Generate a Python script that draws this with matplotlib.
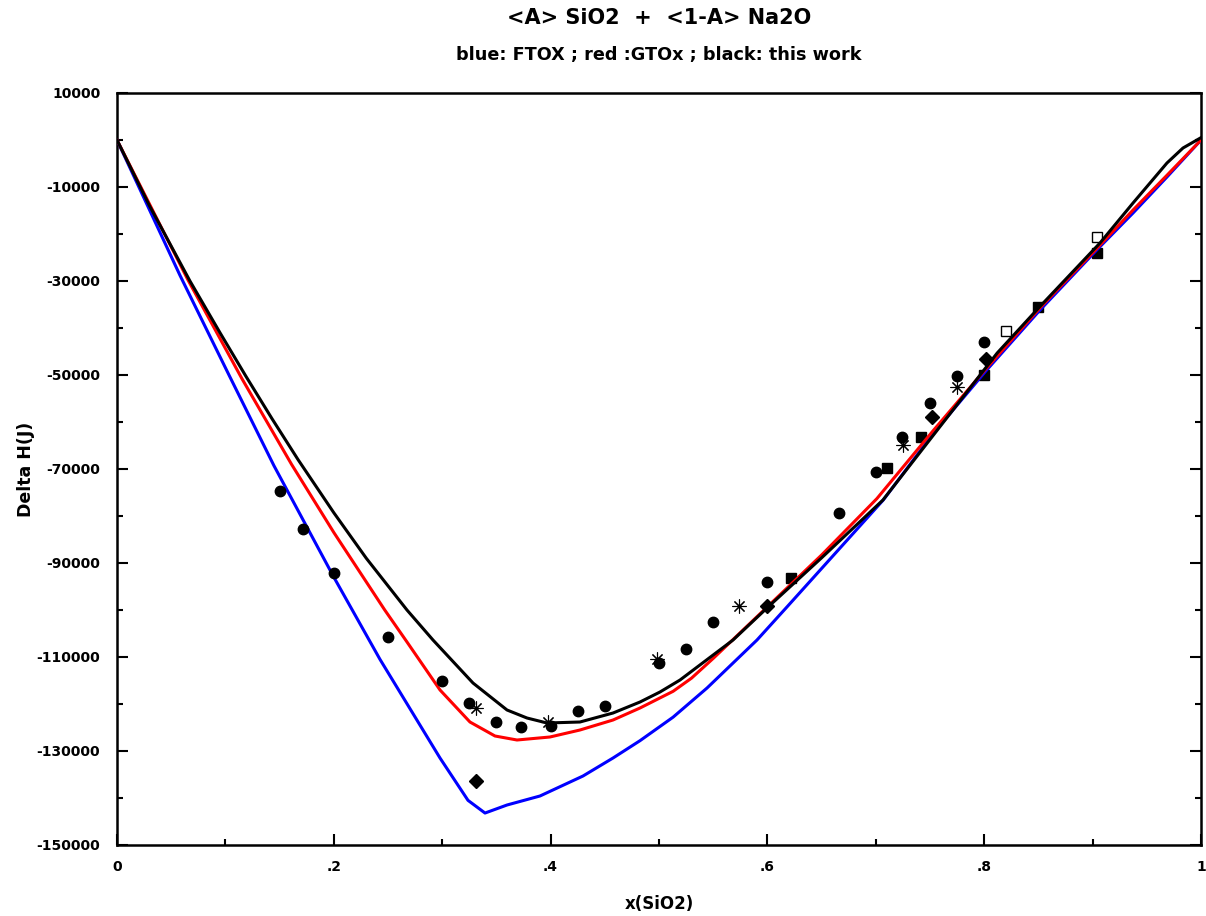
import matplotlib
matplotlib.use("Agg")
import matplotlib.pyplot as plt
from matplotlib.ticker import MultipleLocator, FuncFormatter

plt.rcParams['font.family'] = ['DejaVu Sans']
plt.rcParams['font.weight'] = 'bold'

# ---- model curves ----
blue_x = [0.0, 0.0581, 0.1033, 0.1448, 0.2, 0.2426, 0.298, 0.3238, 0.3395, 0.3598,
          0.3902, 0.4299, 0.4576, 0.4825, 0.513, 0.5443, 0.5904, 0.618, 0.7069,
          0.7531, 0.8023, 0.8515, 0.9038, 0.9373, 0.9686, 1.0]
blue_y = [0, -28800, -50000, -69300, -93000, -110500, -131500, -140500, -143200, -141489,
          -139574, -135319, -131489, -127800, -122800, -116600, -106383, -99362, -76596,
          -62411, -48936, -36170, -23404, -15532, -7872, 0]

red_x = [0.0, 0.0655, 0.1153, 0.161, 0.2, 0.247, 0.2675, 0.298, 0.3256, 0.3487, 0.369,
         0.3994, 0.4271, 0.4576, 0.4825, 0.513, 0.53, 0.55, 0.5655, 0.5996, 0.65, 0.701,
         0.7531, 0.8023, 0.8515, 0.9038, 0.9373, 0.9686, 1.0]
red_y = [0, -29787, -50800, -69000, -83500, -100000, -106800, -117021, -123830, -126809,
         -127660, -127021, -125532, -123404, -120851, -117300, -114500, -110300, -106900,
         -99400, -88300, -76300, -61800, -48500, -35700, -23100, -14900, -7500, 0]

black_x = [0.0, 0.03, 0.0673, 0.095, 0.119, 0.143, 0.167, 0.2, 0.23, 0.2675, 0.2915,
           0.3284, 0.3598, 0.3782, 0.3967, 0.4271, 0.4576, 0.4825, 0.5009, 0.5194,
           0.5683, 0.6006, 0.65, 0.7066, 0.7531, 0.812, 0.851, 0.9068, 0.9373,
           0.9686, 0.9834, 1.0]
black_y = [0, -14000, -30000, -41000, -50300, -59300, -68000, -79300, -89000, -100000,
           -106383, -115532, -121277, -122979, -124043, -123830, -121915, -119574,
           -117447, -114894, -106383, -99362, -88900, -76596, -62800, -45319, -35532,
           -21915, -13404, -4894, -1702, 500]

# ---- experimental points ----
circle_x = [0.15, 0.1716, 0.2, 0.25, 0.3, 0.325, 0.35, 0.373, 0.4, 0.425, 0.45,
            0.5, 0.525, 0.55, 0.6, 0.666, 0.7, 0.724, 0.75, 0.775, 0.8]
circle_y = [-74700, -82766, -92128, -105745, -115106, -119787, -123830, -124894, -124680,
            -121489, -120426, -111277, -108298, -102553, -94043, -79362, -70638, -63191,
            -55957, -50213, -42979]

square_x = [0.622, 0.710, 0.742, 0.800, 0.850, 0.904]
square_y = [-93191, -69787, -63191, -50000, -35532, -24043]

open_sq_x = [0.820, 0.904]
open_sq_y = [-40638, -20638]

diamond_x = [0.331, 0.600, 0.752, 0.802]
diamond_y = [-136383, -99149, -58936, -46596]

star_x = [0.331, 0.398, 0.498, 0.574, 0.725, 0.775]
star_y = [-120851, -123830, -110426, -99149, -64894, -52553]

fig = plt.figure(figsize=(12.06, 9.16), dpi=100)
ax = fig.add_axes([117/1206, 1-845/916, (1201-117)/1206, (845-93)/916])

lw = 2.2
ax.plot(blue_x, blue_y, color='#0000ff', lw=lw, zorder=3)
ax.plot(red_x, red_y, color='#ff0000', lw=lw, zorder=3)
ax.plot(black_x, black_y, color='black', lw=lw, zorder=4)

ax.plot(circle_x, circle_y, 'o', color='black', ms=7.5, zorder=5, ls='none')
ax.plot(square_x, square_y, 's', color='black', ms=6.5, zorder=2, ls='none')
ax.plot(open_sq_x, open_sq_y, 's', mfc='white', mec='black', mew=1.0, ms=6.5, zorder=2, ls='none')
ax.plot(diamond_x, diamond_y, 'D', color='black', ms=7.5, zorder=5, ls='none')
ax.plot(star_x, star_y, marker=(8, 2, 0), color='black', ms=10, mew=0.8, zorder=5, ls='none')

ax.set_xlim(0, 1)
ax.set_ylim(-150000, 10000)

ax.yaxis.set_minor_locator(MultipleLocator(10000))
ax.xaxis.set_major_locator(MultipleLocator(0.2))
ax.xaxis.set_minor_locator(MultipleLocator(0.1))

def xfmt(v, pos):
    if abs(v) < 1e-9:
        return '0'
    if abs(v - 1) < 1e-9:
        return '1'
    return ('%.1f' % v).lstrip('0')
ax.xaxis.set_major_formatter(FuncFormatter(xfmt))
ax.set_yticks([10000, -10000, -30000, -50000, -70000, -90000, -110000, -130000, -150000])
ax.yaxis.set_major_formatter(FuncFormatter(lambda v, p: '%d' % v))

ax.tick_params(axis='both', which='both', direction='in', top=False, right=True,
               width=1.5, labelsize=10, colors='black')
ax.tick_params(axis='both', which='major', length=8)
ax.tick_params(axis='both', which='minor', length=4)
ax.tick_params(axis='y', which='major', pad=12)
ax.tick_params(axis='x', which='major', pad=11)
for lab in ax.get_xticklabels() + ax.get_yticklabels():
    lab.set_fontweight('bold')

for s in ax.spines.values():
    s.set_linewidth(1.8)

ax.set_xlabel('x(SiO2)', fontsize=12, fontweight='bold', labelpad=15)
ax.set_ylabel('Delta H(J)', fontsize=12.5, fontweight='bold', labelpad=1)

fig.text(659/1206, 1-18/916, '<A> SiO2  +  <1-A> Na2O', ha='center', va='center',
         fontsize=15, fontweight='bold')
fig.text(659/1206, 1-55/916, 'blue: FTOX ; red :GTOx ; black: this work', ha='center',
         va='center', fontsize=12.7, fontweight='bold')

fig.savefig('out.png', dpi=100)
